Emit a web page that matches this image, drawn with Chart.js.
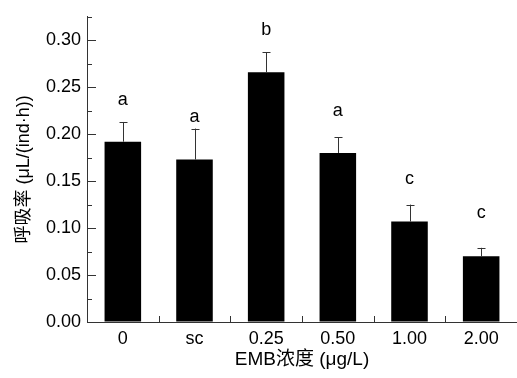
<!DOCTYPE html>
<html>
<head>
<meta charset="utf-8">
<script src="https://cdn.jsdelivr.net/npm/chart.js@4/dist/chart.umd.min.js"></script>
<style>
  html, body { margin: 0; padding: 0; background: #fff; }
  #wrap { width: 517px; height: 378px; }
</style>
</head>
<body>
<div id="wrap"><canvas id="rateChart" width="517" height="378"></canvas></div>
<script>
// Data
const groups = ['0', 'sc', '0.25', '0.50', '1.00', '2.00'];
const rates = [0.192, 0.173, 0.266, 0.180, 0.107, 0.070];
const errors = [0.021, 0.033, 0.021, 0.017, 0.018, 0.009];
const letters = ['a', 'a', 'b', 'a', 'c', 'c'];
const letterY = [0.236, 0.218, 0.311, 0.225, 0.152, 0.116];

const FONT = 'Arial, "Liberation Sans", "Noto Sans CJK SC", sans-serif';
const AXIS = '#333';

// error bars + significance letters
const errorBars = {
    id: 'errorBars',
    afterDatasetsDraw(chart) {
        const { ctx, scales: { y } } = chart;
        const meta = chart.getDatasetMeta(0);
        ctx.save();
        ctx.strokeStyle = AXIS;
        ctx.lineWidth = 1;
        meta.data.forEach((bar, i) => {
            const x = Math.round(bar.x) + 0.5;
            const top = y.getPixelForValue(rates[i] + errors[i]);
            const base = y.getPixelForValue(rates[i]);
            ctx.beginPath();
            ctx.moveTo(x, base);
            ctx.lineTo(x, top);
            ctx.moveTo(x - 4, Math.round(top) + 0.5);
            ctx.lineTo(x + 4, Math.round(top) + 0.5);
            ctx.stroke();

            ctx.fillStyle = '#000';
            ctx.font = '18px ' + FONT;
            ctx.textAlign = 'center';
            ctx.textBaseline = 'middle';
            ctx.fillText(letters[i], bar.x, y.getPixelForValue(letterY[i]));
        });
        ctx.restore();
    }
};

// inward tick marks (major + minor)
const innerTicks = {
    id: 'innerTicks',
    afterDraw(chart) {
        const { ctx, chartArea: area, scales: { x, y } } = chart;
        ctx.save();
        ctx.strokeStyle = AXIS;
        ctx.lineWidth = 1;
        ctx.beginPath();
        for (let k = 0; k <= 13; k++) {
            const py = Math.round(y.getPixelForValue(k * 0.025)) + 0.5;
            const len = k % 2 === 0 ? 9 : 5;
            ctx.moveTo(area.left, py);
            ctx.lineTo(area.left + len, py);
        }
        for (let i = 1; i < groups.length; i++) {
            const px = Math.round((x.getPixelForValue(i - 1) + x.getPixelForValue(i)) / 2) + 0.5;
            ctx.moveTo(px, area.bottom);
            ctx.lineTo(px, area.bottom - 6);
        }
        ctx.stroke();
        ctx.restore();
    }
};

const ctx = document.getElementById('rateChart').getContext('2d');
const rateChart = new Chart(ctx, {
    type: 'bar',
    data: {
        labels: groups,
        datasets: [{
            data: rates,
            backgroundColor: '#000',
            borderWidth: 0,
            categoryPercentage: 1,
            barPercentage: 0.51
        }]
    },
    options: {
        responsive: false,
        animation: false,
        layout: { padding: { top: 7, left: 0, right: 0, bottom: 0 } },
        plugins: {
            legend: { display: false },
            tooltip: { enabled: false }
        },
        scales: {
            x: {
                grid: { display: true, drawOnChartArea: false, drawTicks: false },
                border: { color: AXIS, width: 1 },
                ticks: { color: '#000', font: { family: FONT, size: 18 }, padding: 6, maxRotation: 0 },
                title: {
                    display: true,
                    text: 'EMB浓度 (μg/L)',
                    color: '#000',
                    font: { family: FONT, size: 19 },
                    padding: { top: 0, bottom: 7 }
                },
                afterFit(scale) { scale.height = 56; }
            },
            y: {
                min: 0,
                max: 0.325,
                grid: { display: true, drawOnChartArea: false, drawTicks: false },
                border: { color: AXIS, width: 1 },
                ticks: {
                    stepSize: 0.025,
                    autoSkip: false,
                    color: '#000',
                    font: { family: FONT, size: 18 },
                    padding: 6,
                    callback: (v, i) => (i % 2 === 0 ? v.toFixed(2) : '')
                },
                title: {
                    display: true,
                    text: '呼吸率 (μL/(ind·h))',
                    color: '#000',
                    font: { family: FONT, size: 18 },
                    padding: { top: 13, bottom: 0 }
                },
                afterFit(scale) { scale.width = 87; }
            }
        }
    },
    plugins: [errorBars, innerTicks]
});
</script>
</body>
</html>
